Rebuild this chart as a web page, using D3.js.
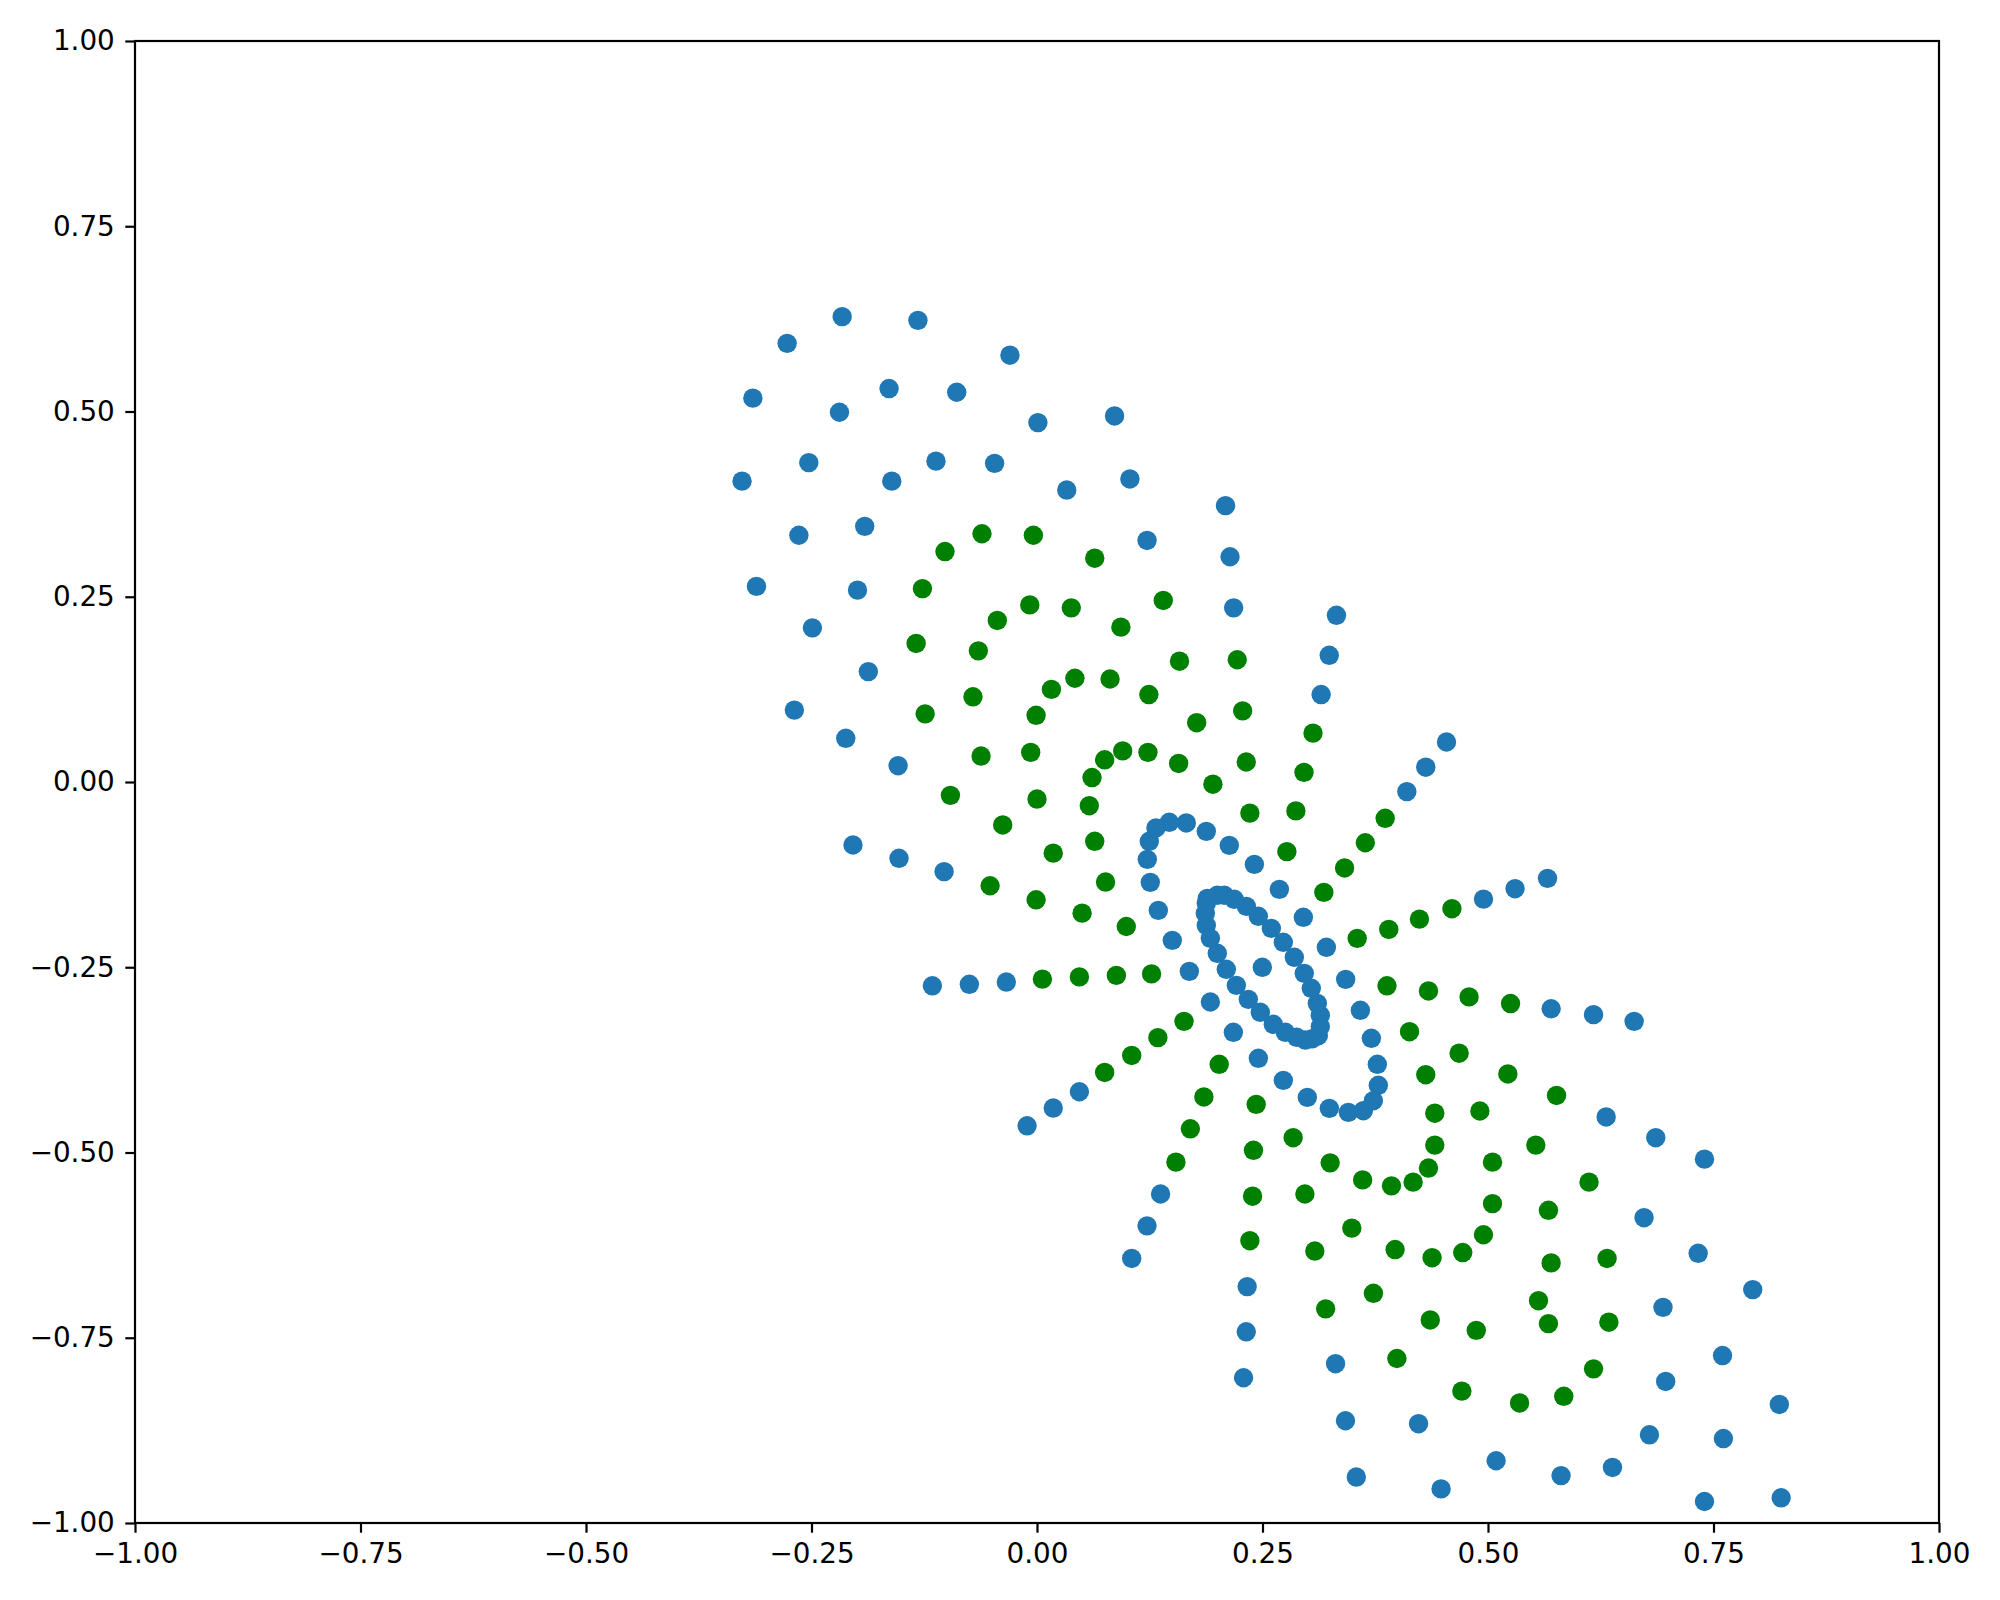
<!DOCTYPE html>
<html><head><meta charset="utf-8">
<script src="https://cdn.jsdelivr.net/npm/d3@7"></script>
<style>html,body{margin:0;padding:0;background:#fff}svg{display:block}</style>
</head><body><div id="chart"></div>
<script>
const tickValues = [-1,-0.75,-0.5,-0.25,0,0.25,0.5,0.75,1];
const blueX = [-0.216,-0.132,-0.277,-0.030,-0.315,-0.164,-0.089,-0.219,0.086,0.001,-0.253,-0.112,-0.047,-0.161,-0.327,0.033,0.103,0.209,-0.191,-0.264,0.122,0.214,-0.311,-0.199,0.218,-0.249,0.332,0.324,-0.187,0.315,-0.269,-0.212,0.454,-0.154,0.431,0.410,-0.204,-0.153,-0.103,
 0.1655,0.1467,0.1319,0.1245,0.1223,0.1256,0.1345,0.150,0.1689,0.1922,0.2177,0.2454,0.2731,0.2997,0.3241,0.3452,0.3618,0.3729,0.3784,0.3773,0.3707,0.3585,0.3422,0.3208,0.2953,0.2687,0.2410,0.2132,0.1877,0.2498,
 0.1999,0.2077,0.1888,0.1877,0.1866,0.1877,0.1922,0.1999,0.2099,0.2210,0.2343,0.2476,0.2620,0.2753,0.2879,0.2975,0.3052,0.3119,0.3141,0.3141,0.3108,0.3041,0.2963,0.2853,0.2731,0.2598,0.2454,0.2321,0.2187,
 0.566,0.530,0.495,-0.116,-0.075,-0.034,0.570,0.617,0.662,0.631,0.686,0.740,-0.011,0.018,0.047,0.673,0.733,0.7935,0.137,0.122,0.105,0.694,0.760,0.823,0.233,0.232,0.229,0.697,0.761,0.825,0.331,0.342,0.354,0.423,0.448,0.509,0.581,0.638,0.679,0.740];
const blueY = [0.628,0.623,0.592,0.576,0.518,0.531,0.526,0.499,0.494,0.485,0.431,0.433,0.430,0.406,0.406,0.394,0.409,0.373,0.345,0.333,0.326,0.304,0.264,0.259,0.235,0.208,0.225,0.171,0.149,0.118,0.097,0.059,0.054,0.022,0.020,-0.013,-0.085,-0.103,-0.121,
 -0.0553,-0.0544,-0.062,-0.080,-0.1044,-0.1354,-0.1732,-0.2137,-0.2555,-0.2969,-0.3378,-0.3729,-0.4026,-0.4256,-0.4404,-0.4458,-0.4436,-0.4301,-0.4093,-0.381,-0.3459,-0.3081,-0.2663,-0.2231,-0.1826,-0.1449,-0.1111,-0.0855,-0.0666,-0.2501,
 -0.1529,-0.1529,-0.1570,-0.1637,-0.1772,-0.1934,-0.2110,-0.2312,-0.2528,-0.2744,-0.2933,-0.3108,-0.3270,-0.3378,-0.3445,-0.3482,-0.3464,-0.3424,-0.3302,-0.3149,-0.2987,-0.2784,-0.2582,-0.2366,-0.2163,-0.1975,-0.1812,-0.1678,-0.1583,
 -0.130,-0.144,-0.158,-0.275,-0.273,-0.270,-0.306,-0.314,-0.323,-0.452,-0.480,-0.509,-0.464,-0.440,-0.418,-0.588,-0.636,-0.685,-0.556,-0.599,-0.643,-0.709,-0.774,-0.840,-0.681,-0.742,-0.804,-0.809,-0.886,-0.966,-0.785,-0.862,-0.938,-0.866,-0.954,-0.916,-0.936,-0.925,-0.881,-0.971];
const greenX = [-0.061,-0.004,-0.102,0.064,-0.127,0.140,-0.008,0.038,-0.044,0.093,-0.134,-0.065,0.158,0.222,0.042,0.081,0.016,0.124,-0.071,0.228,-0.124,-0.001,0.177,0.306,-0.062,-0.007,0.095,0.123,0.075,0.157,0.232,0.296,0.061,0.195,-0.096,0.000,0.058,0.236,0.287,0.386,-0.038,0.064,0.364,0.277,0.018,0.341,-0.052,0.076,0.318,-0.001,0.050,0.460,0.424,0.390,0.099,0.355,0.127,0.088,0.047,0.006,0.388,0.434,0.479,0.525,0.163,0.134,0.105,0.075,0.413,0.202,0.468,0.431,0.522,0.185,0.576,0.243,0.441,0.491,0.170,0.284,0.441,0.553,0.240,0.154,0.325,0.505,0.434,0.361,0.417,0.612,0.393,0.297,0.239,0.505,0.567,0.349,0.495,0.236,0.308,0.397,0.472,0.438,0.632,0.570,0.373,0.556,0.320,0.436,0.634,0.567,0.487,0.399,0.617,0.471,0.584,0.535];
const greenY = [0.335,0.333,0.311,0.302,0.261,0.245,0.239,0.235,0.218,0.209,0.187,0.177,0.163,0.165,0.140,0.139,0.125,0.118,0.115,0.096,0.092,0.090,0.080,0.066,0.035,0.040,0.042,0.040,0.030,0.025,0.027,0.013,0.006,-0.003,-0.018,-0.023,-0.032,-0.042,-0.039,-0.049,-0.058,-0.080,-0.082,-0.094,-0.096,-0.116,-0.140,-0.135,-0.149,-0.159,-0.177,-0.171,-0.185,-0.199,-0.195,-0.211,-0.259,-0.261,-0.263,-0.266,-0.275,-0.282,-0.290,-0.299,-0.323,-0.345,-0.369,-0.392,-0.337,-0.381,-0.366,-0.395,-0.394,-0.425,-0.423,-0.435,-0.447,-0.444,-0.468,-0.480,-0.490,-0.490,-0.497,-0.513,-0.514,-0.513,-0.521,-0.537,-0.540,-0.540,-0.545,-0.556,-0.559,-0.569,-0.578,-0.602,-0.611,-0.619,-0.633,-0.631,-0.635,-0.642,-0.643,-0.649,-0.690,-0.700,-0.711,-0.726,-0.729,-0.731,-0.740,-0.778,-0.792,-0.822,-0.829,-0.838];

const W = 2000, H = 1600;
const x = d3.scaleLinear().domain([-1,1]).range([135,1939]);
const y = d3.scaleLinear().domain([-1,1]).range([1523,41]);
const svg = d3.select("#chart").append("svg").attr("width",W).attr("height",H).attr("viewBox",`0 0 ${W} ${H}`);
svg.append("rect").attr("width",W).attr("height",H).attr("fill","#fff");

const fmt = v => d3.format(".2f")(v).replace("-","\u2212");
function series(xs, ys, color, name){
  svg.append("g").attr("class",name).selectAll("circle").data(xs.map((v,i)=>[v,ys[i]])).join("circle")
    .attr("cx",d=>x(d[0])).attr("cy",d=>y(d[1])).attr("r",9.7).attr("fill",color);
}
series(greenX, greenY, "#008000", "green");
series(blueX, blueY, "#1f77b4", "blue");

const gx = svg.append("g").attr("transform",`translate(0,1523)`)
  .call(d3.axisBottom(x).tickValues(tickValues).tickFormat(fmt).tickSize(9.7).tickPadding(10.5));
const gy = svg.append("g").attr("transform",`translate(135,0)`)
  .call(d3.axisLeft(y).tickValues(tickValues).tickFormat(fmt).tickSize(9.7).tickPadding(10.5));
[gx,gy].forEach(g=>{
  g.select(".domain").remove();
  g.selectAll("line").attr("stroke","#000").attr("stroke-width",2.2);
  g.selectAll("text").attr("fill","#000").style("font-family","'DejaVu Sans'").style("font-size","27.8px");
});
svg.append("rect").attr("x",135).attr("y",41).attr("width",1804).attr("height",1482)
  .attr("fill","none").attr("stroke","#000").attr("stroke-width",2.2);
</script></body></html>
